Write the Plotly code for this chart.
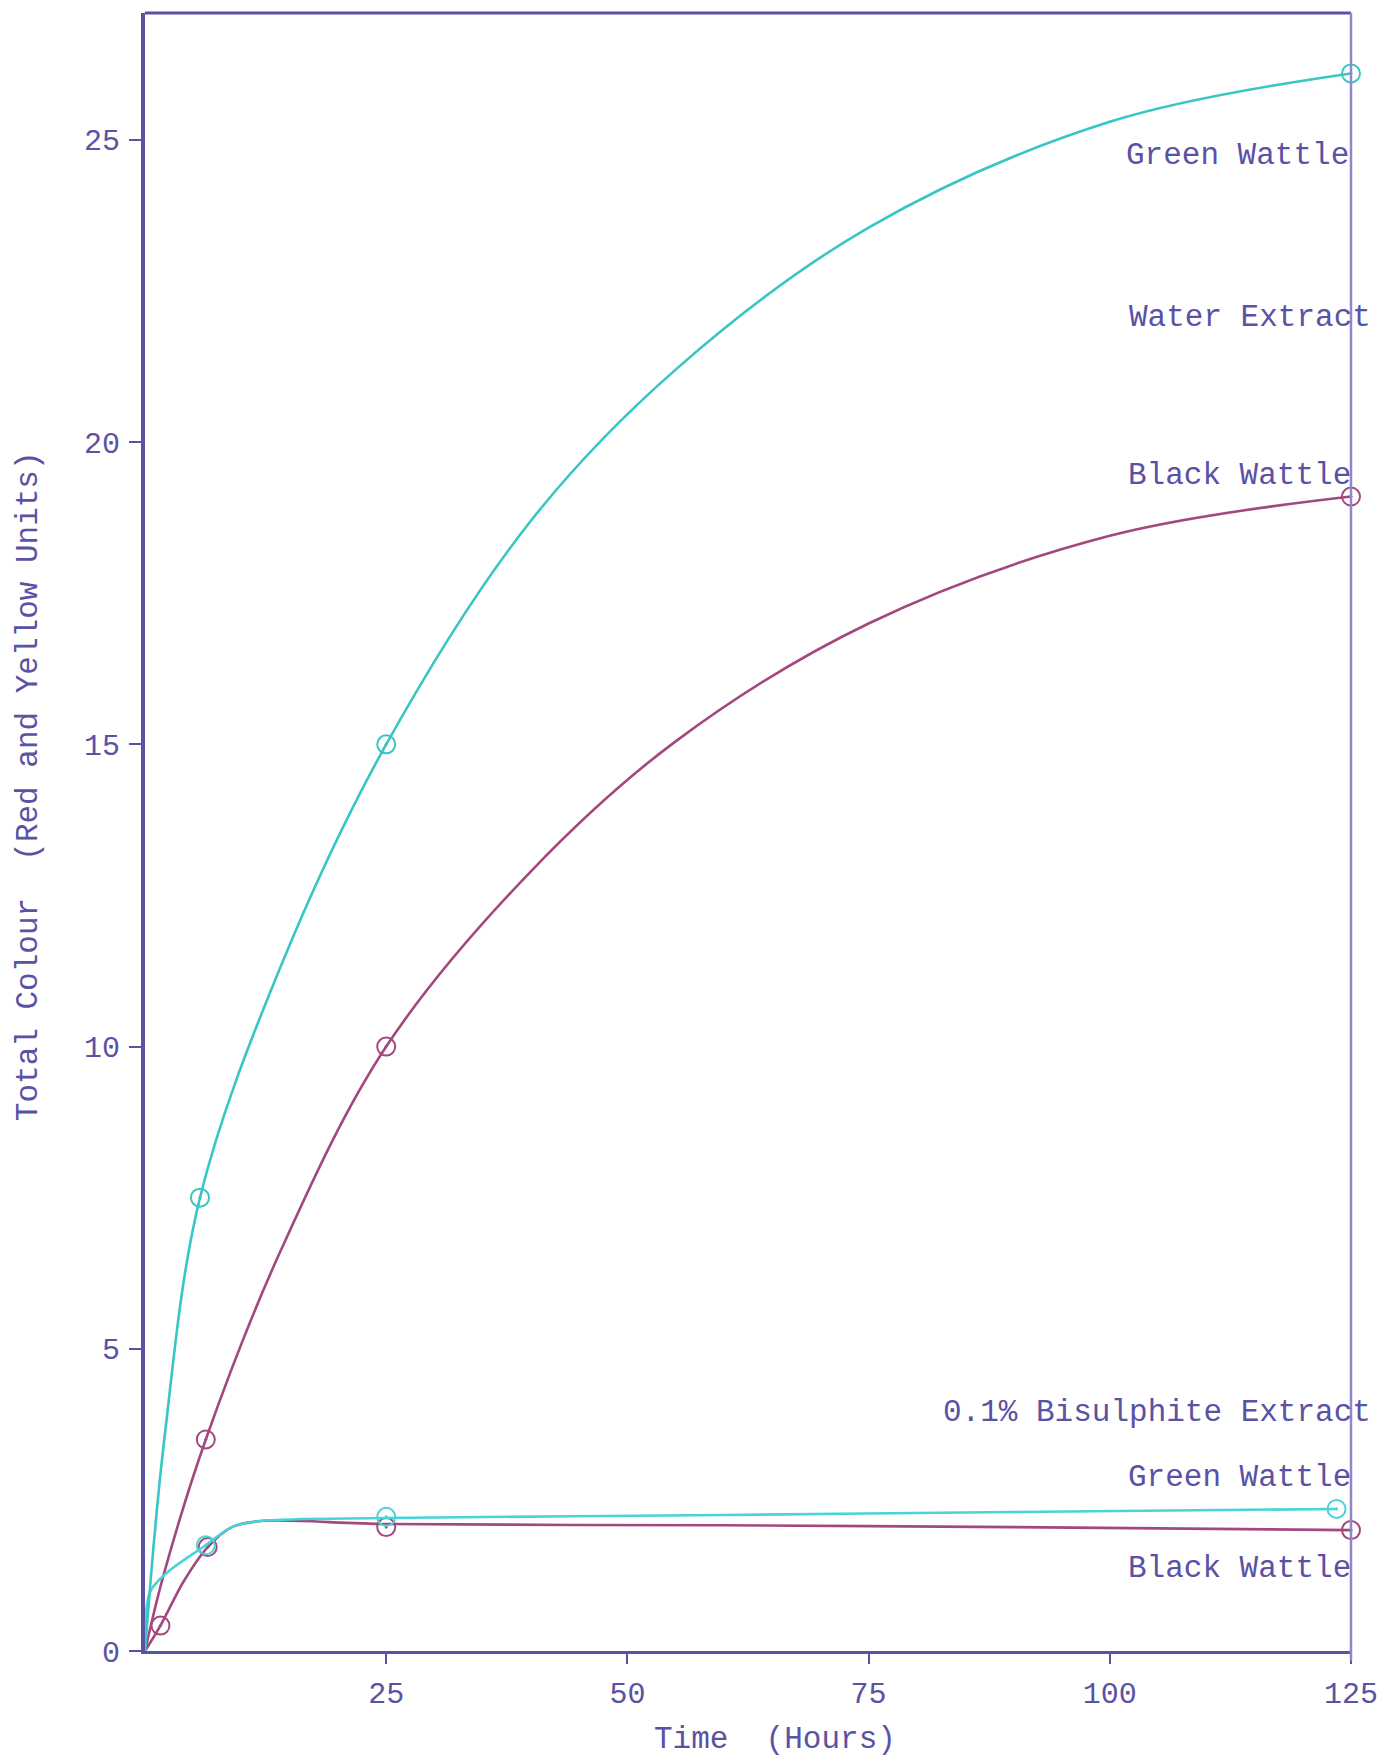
import plotly.graph_objects as go

# ---- Water extract, Green Wattle ----
gw_water_t = [5.7, 25, 125]
gw_water_v = [7.5, 15.0, 26.1]
gw_water_curve_t = [0, 2, 5.7, 14, 25, 40, 55, 75, 100, 125]
gw_water_curve_v = [0, 3.5, 7.5, 11.3, 15.0, 18.7, 21.2, 23.55, 25.3, 26.1]

# ---- Water extract, Black Wattle ----
bw_water_t = [6.3, 25, 125]
bw_water_v = [3.5, 10.0, 19.1]
bw_water_curve_t = [0, 2, 6.3, 14, 25, 40, 55, 75, 100, 125]
bw_water_curve_v = [0, 1.3, 3.5, 6.6, 10.0, 12.9, 15.05, 17.0, 18.45, 19.1]

# ---- 0.1% Bisulphite extract, Green Wattle ----
gw_bis_t = [6.3, 25, 123.5]
gw_bis_v = [1.75, 2.22, 2.35]
gw_bis_curve_t = [0, 0.5, 2.3, 6.3, 9, 12, 25, 60, 90, 123.5]
gw_bis_curve_v = [0, 0.97, 1.3, 1.75, 2.05, 2.15, 2.2, 2.25, 2.3, 2.35]

# ---- 0.1% Bisulphite extract, Black Wattle ----
bw_bis_t = [1.6, 6.5, 25, 125]
bw_bis_v = [0.42, 1.72, 2.05, 2.0]
bw_bis_curve_t = [0, 1.6, 4, 6.5, 9, 12, 25, 60, 90, 125]
bw_bis_curve_v = [0, 0.42, 1.15, 1.72, 2.05, 2.15, 2.1, 2.08, 2.05, 2.0]

x_ticks = [25, 50, 75, 100, 125]
y_ticks = [0, 5, 10, 15, 20, 25]

INK = "#5a52a4"
CYAN = "#38c6c4"
CYAN_LIGHT = "#48d4d8"
MAGENTA = "#a2487f"
FONT = "Liberation Mono, Courier New, monospace"

fig = go.Figure()


def add_series(curve_t, curve_v, pts_t, pts_v, color, name, smoothing=1.0):
    fig.add_trace(go.Scatter(
        x=curve_t, y=curve_v, mode="lines", name=name,
        line=dict(color=color, width=2.6, shape="spline", smoothing=smoothing),
        hoverinfo="skip", showlegend=False,
    ))
    fig.add_trace(go.Scatter(
        x=pts_t, y=pts_v, mode="markers", name=name,
        marker=dict(symbol="circle-open-dot", size=18, color=color,
                    line=dict(width=2, color=color)),
        showlegend=False, cliponaxis=False,
    ))


add_series(bw_water_curve_t, bw_water_curve_v, bw_water_t, bw_water_v, MAGENTA, "Black Wattle (water)")
add_series(bw_bis_curve_t, bw_bis_curve_v, bw_bis_t, bw_bis_v, MAGENTA, "Black Wattle (bisulphite)", 0.9)
add_series(gw_bis_curve_t, gw_bis_curve_v, gw_bis_t, gw_bis_v, CYAN_LIGHT, "Green Wattle (bisulphite)", 0.9)
add_series(gw_water_curve_t, gw_water_curve_v, gw_water_t, gw_water_v, CYAN, "Green Wattle (water)")

# series labels along the right-hand edge
labels = [
    ("Green Wattle", 1.000, 0.9127),
    ("Water Extract", 1.018, 0.8138),
    ("Black Wattle", 1.002, 0.7179),
    ("0.1% Bisulphite Extract", 1.018, 0.1459),
    ("Green Wattle", 1.002, 0.1062),
    ("Black Wattle", 1.002, 0.0501),
]
annotations = [
    dict(text=t, x=x, y=y, xref="paper", yref="paper", xanchor="right",
         yanchor="middle", showarrow=False,
         font=dict(family=FONT, size=31, color=INK))
    for t, x, y in labels
]
annotations.append(dict(
    text="Time  (Hours)", x=0.522, y=-0.054, xref="paper", yref="paper",
    xanchor="center", yanchor="middle", showarrow=False,
    font=dict(family=FONT, size=31, color=INK)))
annotations.append(dict(
    text="Total Colour  (Red and Yellow Units)", x=-0.097, y=0.528,
    xref="paper", yref="paper", xanchor="center", yanchor="middle",
    textangle=-90, showarrow=False,
    font=dict(family=FONT, size=31, color=INK)))

fig.update_layout(
    width=1393, height=1761,
    margin=dict(l=145, r=42, t=13, b=110),
    paper_bgcolor="white", plot_bgcolor="white",
    annotations=annotations,
    shapes=[
        dict(type="line", xref="paper", yref="paper", x0=0, x1=1, y0=1, y1=1,
             line=dict(color=INK, width=3)),
        dict(type="line", xref="paper", yref="paper", x0=1, x1=1, y0=-0.006, y1=1,
             line=dict(color="#8f86cc", width=2.5)),
    ],
)
fig.update_xaxes(
    range=[0, 125], tickvals=x_ticks, ticktext=[str(v) for v in x_ticks],
    ticks="outside", ticklen=10, tickwidth=2, tickcolor=INK,
    showline=True, linewidth=3, linecolor=INK,
    showgrid=False, zeroline=False, ticklabelstandoff=3,
    tickfont=dict(family=FONT, size=30, color=INK),
)
fig.update_yaxes(
    range=[0, 27.1], tickvals=y_ticks, ticktext=[str(v) for v in y_ticks],
    ticks="outside", ticklen=12, tickwidth=2, tickcolor=INK,
    showline=True, linewidth=4, linecolor=INK,
    showgrid=False, zeroline=False, ticklabelstandoff=3,
    tickfont=dict(family=FONT, size=30, color=INK),
)

fig.write_html("out.html")
